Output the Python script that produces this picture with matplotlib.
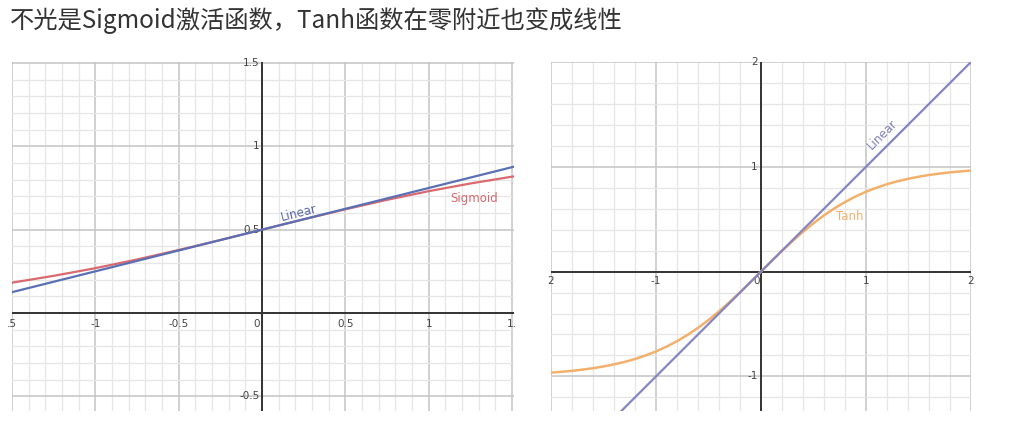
import numpy as np
import matplotlib
matplotlib.use("Agg")
import matplotlib.pyplot as plt
from matplotlib.ticker import MultipleLocator

plt.rcParams['font.family'] = ['Noto Sans CJK SC', 'DejaVu Sans']

title = "不光是Sigmoid激活函数，Tanh函数在零附近也变成线性"

# Left panel: sigmoid vs linear
sig_x = [-1.5, -1.25, -1.0, -0.75, -0.5, -0.25, 0.0, 0.25, 0.5, 0.75, 1.0, 1.25, 1.5, 1.52]
sig_y = [0.182, 0.223, 0.269, 0.321, 0.378, 0.438, 0.5, 0.562, 0.622, 0.679, 0.731, 0.777, 0.818, 0.821]
lin1_x = [-1.5, 1.52]
lin1_y = [0.125, 0.88]
left_xticks = [-1.5, -1, -0.5, 0, 0.5, 1, 1.5]
left_xlabels = [".5", "-1", "-0.5", "0", "0.5", "1", "1."]
left_yticks = [-0.5, 0.5, 1, 1.5]
left_ylabels = ["-0.5", "0.5", "1", "1.5"]

# Right panel: tanh vs linear
tanh_x = [-2.0, -1.9, -1.8, -1.7, -1.6, -1.5, -1.4, -1.3, -1.2, -1.1, -1.0,
          -0.9, -0.8, -0.7, -0.6, -0.5, -0.4, -0.3, -0.2, -0.1, 0.0,
          0.1, 0.2, 0.3, 0.4, 0.5, 0.6, 0.7, 0.8, 0.9, 1.0,
          1.1, 1.2, 1.3, 1.4, 1.5, 1.6, 1.7, 1.8, 1.9, 2.0]
tanh_y = [-0.964, -0.956, -0.947, -0.935, -0.922, -0.905, -0.885, -0.862, -0.834, -0.800, -0.762,
          -0.716, -0.664, -0.604, -0.537, -0.462, -0.380, -0.291, -0.197, -0.100, 0.0,
          0.100, 0.197, 0.291, 0.380, 0.462, 0.537, 0.604, 0.664, 0.716, 0.762,
          0.800, 0.834, 0.862, 0.885, 0.905, 0.922, 0.935, 0.947, 0.956, 0.964]
lin2_x = [-2.0, 2.0]
lin2_y = [-2.0, 2.0]
right_xticks = [-2, -1, 0, 1, 2]
right_xlabels = ["2", "-1", "0", "1", "2"]
right_yticks = [-1, 1, 2]
right_ylabels = ["-1", "1", "2"]

W, H = 1010, 448
fig = plt.figure(figsize=(W / 100, H / 100), dpi=100)
fig.patch.set_facecolor('white')

fig.text(9.5 / W, 1 - 21 / H, title, fontsize=17.5, color='#333333',
         ha='left', va='center')

minor_c = '#e6e6e6'
major_c = '#c4c4c4'
axis_c = '#333333'
tick_c = '#444444'


def setup(ax, xlim, ylim, major, minor):
    ax.set_xlim(*xlim)
    ax.set_ylim(*ylim)
    ax.xaxis.set_major_locator(MultipleLocator(major))
    ax.yaxis.set_major_locator(MultipleLocator(major))
    ax.xaxis.set_minor_locator(MultipleLocator(minor))
    ax.yaxis.set_minor_locator(MultipleLocator(minor))
    ax.grid(which='minor', color=minor_c, lw=0.9, zorder=0)
    ax.grid(which='major', color=major_c, lw=1.1, zorder=0)
    ax.set_axisbelow(True)
    ax.tick_params(which='both', length=0, labelbottom=False, labelleft=False)
    for s in ax.spines.values():
        s.set_visible(False)
    ax.axhline(0, color=axis_c, lw=1.4, zorder=1)
    ax.axvline(0, color=axis_c, lw=1.4, zorder=1)


# Left axes
ax1 = fig.add_axes([12 / W, 1 - 411 / H, (514 - 12) / W, (411 - 62) / H])
setup(ax1, (-1.5, 1.512), (-0.588, 1.506), 0.5, 0.1)
ax1.plot(sig_x, sig_y, color='#d9696e', lw=1.6, zorder=3)
ax1.plot(lin1_x, lin1_y, color='#5b70b4', lw=1.6, zorder=4)
ax1.text(0.22, 0.6, "Linear", color='#5a64a6', fontsize=8.5, rotation=14,
         ha='center', va='center', family=['DejaVu Sans'])
ax1.text(1.27, 0.685, "Sigmoid", color='#d9696e', fontsize=8.5,
         ha='center', va='center', family=['DejaVu Sans'])
for v, s in zip(left_xticks, left_xlabels):
    off = -0.03 if v == 0 else 0.0
    ax1.text(v + off, -0.035, s, fontsize=7.5, color=tick_c, ha='center', va='top',
             family=['DejaVu Sans'])
for v, s in zip(left_yticks, left_ylabels):
    ax1.text(-0.015, v, s, fontsize=7.5, color=tick_c, ha='right', va='center',
             family=['DejaVu Sans'])

# Right axes
ax2 = fig.add_axes([551 / W, 1 - 411 / H, (971 - 551) / W, (411 - 62) / H])
setup(ax2, (-2.0, 2.0), (-1.33, 2.0), 1.0, 0.2)
ax2.plot(tanh_x, tanh_y, color='#f2b06c', lw=1.8, zorder=3)
ax2.plot(lin2_x, lin2_y, color='#8585c0', lw=1.6, zorder=4)
ax2.text(1.16, 1.31, "Linear", color='#8080b8', fontsize=8.5, rotation=45,
         ha='center', va='center', family=['DejaVu Sans'])
ax2.text(0.85, 0.53, "Tanh", color='#f2b06c', fontsize=8.5,
         ha='center', va='center', family=['DejaVu Sans'])
for v, s in zip(right_xticks, right_xlabels):
    off = -0.04 if v == 0 else 0.0
    ax2.text(v + off, -0.04, s, fontsize=7.5, color=tick_c, ha='center', va='top',
             family=['DejaVu Sans'])
for v, s in zip(right_yticks, right_ylabels):
    ax2.text(-0.03, v, s, fontsize=7.5, color=tick_c, ha='right', va='center',
             family=['DejaVu Sans'])

fig.savefig('out.png', dpi=100, facecolor='white')
